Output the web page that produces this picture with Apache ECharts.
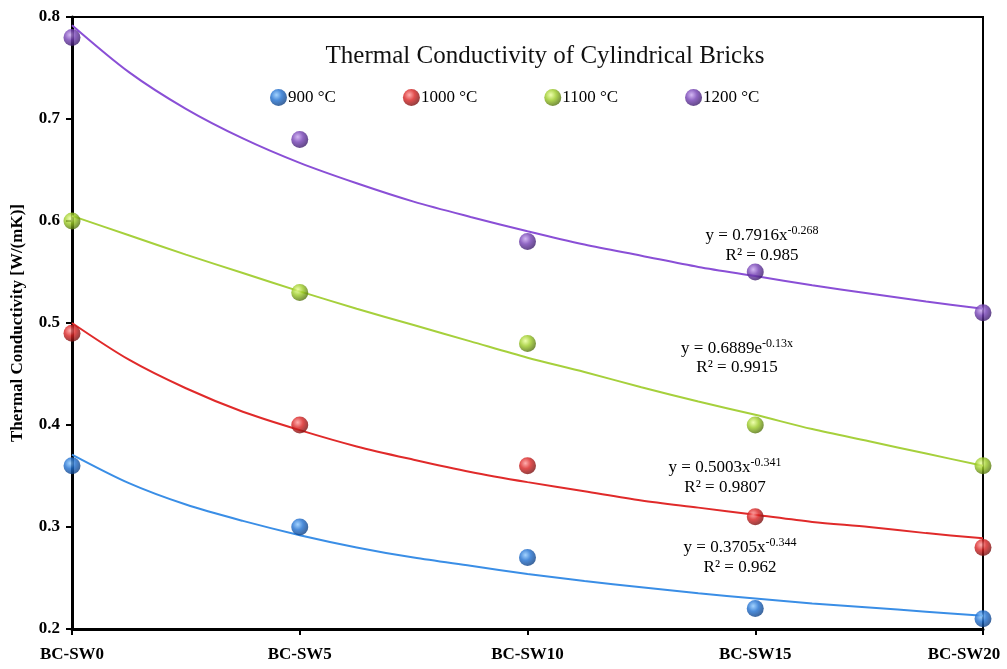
<!DOCTYPE html>
<html><head><meta charset="utf-8">
<script src="https://cdn.jsdelivr.net/npm/echarts@6/dist/echarts.min.js"></script>
<style>html,body{margin:0;padding:0;background:#fff}#c{width:1007px;height:669px}</style>
</head><body><div id="c"></div>
<script>
const categories = ['BC-SW0','BC-SW5','BC-SW10','BC-SW15','BC-SW20'];
const seriesNames = ['900 °C','1000 °C','1100 °C','1200 °C'];
const v900  = [0.36, 0.30, 0.27, 0.22, 0.21];
const v1000 = [0.49, 0.40, 0.36, 0.31, 0.28];
const v1100 = [0.60, 0.53, 0.48, 0.40, 0.36];
const v1200 = [0.78, 0.68, 0.58, 0.55, 0.51];
// trendline readings at quarter-category steps (positions 0, 0.25, ... 4)
const trendX = [0, 0.25, 0.5, 0.75, 1, 1.25, 1.5, 1.75, 2, 2.25, 2.5, 2.75, 3, 3.25, 3.5, 3.75, 4];
const t900  = [0.371,0.343,0.322,0.306,0.292,0.280,0.270,0.262,0.254,0.247,0.241,0.235,0.230,0.225,0.221,0.217,0.213];
const t1000 = [0.500,0.464,0.436,0.413,0.395,0.379,0.366,0.354,0.344,0.335,0.326,0.319,0.312,0.305,0.300,0.294,0.289];
const t1100 = [0.605,0.586,0.567,0.549,0.531,0.514,0.498,0.482,0.466,0.452,0.437,0.423,0.410,0.396,0.384,0.372,0.360];
const t1200 = [0.792,0.746,0.710,0.681,0.657,0.637,0.619,0.604,0.590,0.577,0.566,0.555,0.546,0.537,0.529,0.521,0.514];
const yTicks = [0.2, 0.3, 0.4, 0.5, 0.6, 0.7, 0.8];

const font = '"Liberation Serif","Times New Roman",serif';
const sphere = [
  ['#8cc8ff','#1f6fd0','#0c3a7a'],
  ['#ff9a9a','#d92222','#6e0e0e'],
  ['#eaff9a','#9ccb26','#4c6a0c'],
  ['#c9a6f0','#7440b4','#371864']
];
const lineCol = ['#3a8ee6','#e02a2a','#a6d03c','#8a4fd6'];
function grad(c){return {type:'radial',x:0.38,y:0.35,r:0.7,colorStops:[{offset:0,color:c[0]},{offset:0.45,color:c[1]},{offset:1,color:c[2]}]};}

const vals = [v900,v1000,v1100,v1200];
const trends = [t900,t1000,t1100,t1200];
const series = [];
trends.forEach((t,i)=>{
  series.push({type:'line', name:'trend'+i, data:trendX.map((x,k)=>[x,t[k]]), smooth:0.3, smoothConstraint:false, symbol:'none',
    lineStyle:{color:lineCol[i], width:2}, z:2, silent:true});
});
vals.forEach((v,i)=>{
  series.push({type:'scatter', name:seriesNames[i], data:v.map((y,k)=>[k,y]), symbolSize:17,
    itemStyle:{color:grad(sphere[i])}, z:5});
});

const rich = {b:{fontSize:17,fontFamily:font,fill:'#000'}, s:{fontSize:12,fontFamily:font,fill:'#000',padding:[0,0,10,0]}};
function eqLine(x,y,main,sup){return {type:'text', x:x, y:y, style:{text:'{b|'+main+'}{s|'+sup+'}', rich:rich, align:'center', verticalAlign:'middle'}};}
function r2Line(x,y,t){return {type:'text', x:x, y:y, style:{text:t, font:'17px '+font, fill:'#000', align:'center', verticalAlign:'middle'}};}

const chart = echarts.init(document.getElementById('c'));
chart.setOption({
  animation:false,
  backgroundColor:'#fff',
  title:{text:'Thermal Conductivity of Cylindrical Bricks', left:540, textAlign:'center', top:39,
    textStyle:{fontFamily:font, fontSize:25, fontWeight:'normal', color:'#111'}},
  legend:{data:seriesNames, top:84, left:265, itemGap:67, itemWidth:17, itemHeight:17, icon:'circle',
    textStyle:{fontFamily:font, fontSize:17, color:'#000', padding:[0,0,0,-4]}},
  grid:{left:72, right:24, top:17, bottom:40, show:true, borderColor:'#000', borderWidth:2, outerBoundsMode:'none', containLabel:false},
  xAxis:{type:'value', min:0, max:4, interval:1,
    axisLine:{show:true, lineStyle:{color:'#000', width:3}},
    axisTick:{show:true, length:6, lineStyle:{color:'#000', width:2}},
    splitLine:{show:false},
    axisLabel:{formatter:v=> v===4 ? '{last|'+categories[v]+'}' : categories[v], margin:17, fontFamily:font, fontSize:17, fontWeight:'bold', color:'#000',
      rich:{last:{fontFamily:font, fontSize:17, fontWeight:'bold', color:'#000', padding:[0,38,0,0]}}}},
  yAxis:{type:'value', min:yTicks[0], max:yTicks[yTicks.length-1], interval:0.1,
    name:'Thermal Conductivity [W/(mK)]', nameLocation:'middle', nameGap:46,
    nameTextStyle:{fontFamily:font, fontSize:17, fontWeight:'bold', color:'#000'},
    axisLine:{show:true, lineStyle:{color:'#000', width:3}},
    axisTick:{show:true, length:6, lineStyle:{color:'#000', width:2}},
    splitLine:{show:false},
    axisLabel:{formatter:v=>v.toFixed(1), margin:12, fontFamily:font, fontSize:17, fontWeight:'bold', color:'#000'}},
  graphic:[
    eqLine(762,236,'y = 0.7916x','-0.268'), r2Line(762,256,'R² = 0.985'),
    eqLine(737,349,'y = 0.6889e','-0.13x'), r2Line(737,368,'R² = 0.9915'),
    eqLine(725,468,'y = 0.5003x','-0.341'), r2Line(725,488,'R² = 0.9807'),
    eqLine(740,548,'y = 0.3705x','-0.344'), r2Line(740,568,'R² = 0.962')
  ],
  series:series
});
</script></body></html>
